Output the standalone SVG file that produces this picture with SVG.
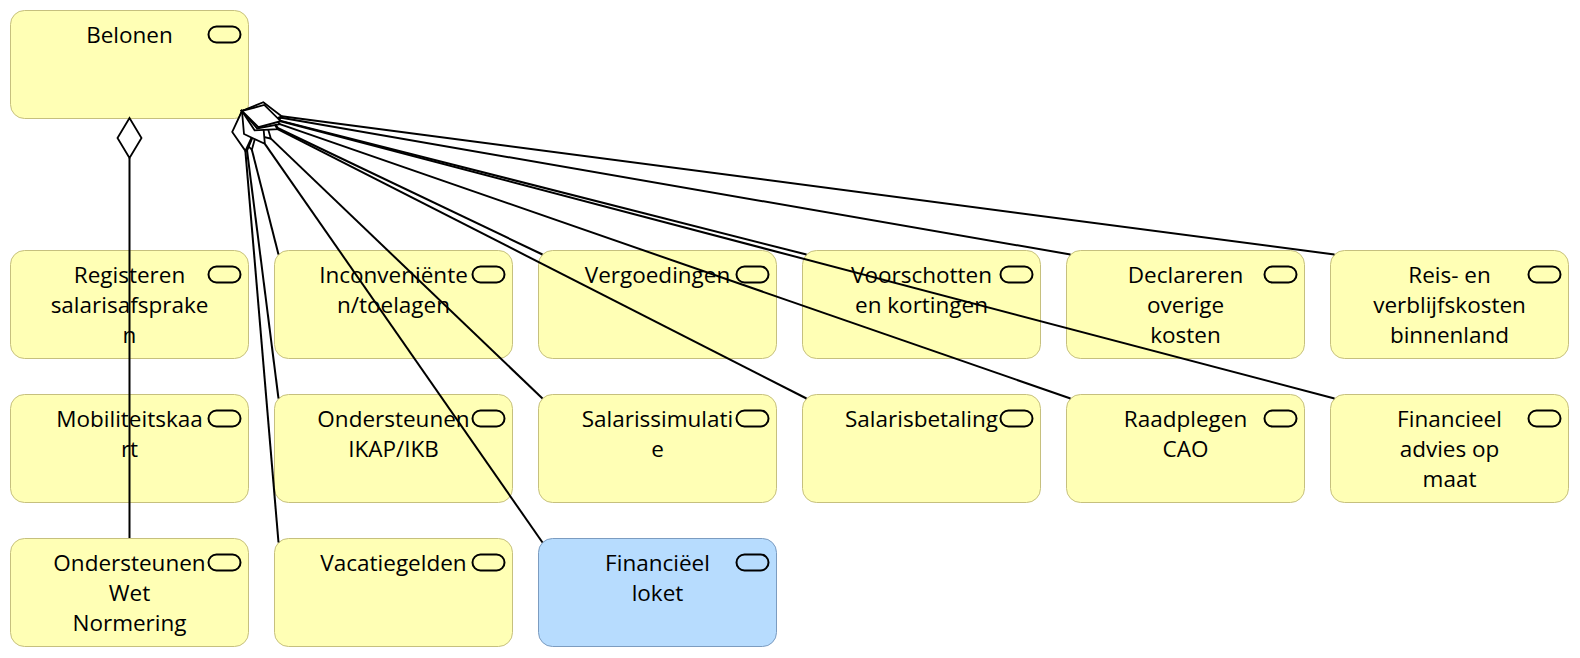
<svg xmlns="http://www.w3.org/2000/svg" width="1580" height="658" viewBox="0 0 1580 658">
<style>
.n{fill:#ffffb5;stroke:#c6c07e;stroke-width:1}
.b{fill:#b7dcfe;stroke:#7c9cc0;stroke-width:1}
.i{fill:none;stroke:#000;stroke-width:2}
.t{font-family:"Open Sans","Noto Sans",sans-serif;font-size:22.5px;fill:#000;text-anchor:middle}
.c{fill:none;stroke:#000;stroke-width:2}
.d{fill:#fff;stroke:#000;stroke-width:1.8;stroke-linejoin:miter}
</style>
<rect width="1580" height="658" fill="#fff"/>
<g id="belonen"><rect class="n" x="10.5" y="10.5" width="238" height="108" rx="14"/><rect class="i" x="208.5" y="26.5" width="32" height="16" rx="8"/><text class="t" x="129.5" y="42.5">Belonen</text></g>

<g id="registeren"><rect class="n" x="10.5" y="250.5" width="238" height="108" rx="14"/><rect class="i" x="208.5" y="266.5" width="32" height="16" rx="8"/><text class="t" x="129.5" y="282.5"><tspan x="129.5">Registeren</tspan><tspan x="129.5" dy="30">salarisafsprake</tspan><tspan x="129.5" dy="30">n</tspan></text></g>
<g id="inconvenienten"><rect class="n" x="274.5" y="250.5" width="238" height="108" rx="14"/><rect class="i" x="472.5" y="266.5" width="32" height="16" rx="8"/><text class="t" x="393.5" y="282.5"><tspan x="393.5">Inconveniënte</tspan><tspan x="393.5" dy="30">n/toelagen</tspan></text></g>
<g id="vergoedingen"><rect class="n" x="538.5" y="250.5" width="238" height="108" rx="14"/><rect class="i" x="736.5" y="266.5" width="32" height="16" rx="8"/><text class="t" x="657.5" y="282.5">Vergoedingen</text></g>
<g id="voorschotten"><rect class="n" x="802.5" y="250.5" width="238" height="108" rx="14"/><rect class="i" x="1000.5" y="266.5" width="32" height="16" rx="8"/><text class="t" x="921.5" y="282.5"><tspan x="921.5">Voorschotten</tspan><tspan x="921.5" dy="30">en kortingen</tspan></text></g>
<g id="declareren"><rect class="n" x="1066.5" y="250.5" width="238" height="108" rx="14"/><rect class="i" x="1264.5" y="266.5" width="32" height="16" rx="8"/><text class="t" x="1185.5" y="282.5"><tspan x="1185.5">Declareren</tspan><tspan x="1185.5" dy="30">overige</tspan><tspan x="1185.5" dy="30">kosten</tspan></text></g>
<g id="reis"><rect class="n" x="1330.5" y="250.5" width="238" height="108" rx="14"/><rect class="i" x="1528.5" y="266.5" width="32" height="16" rx="8"/><text class="t" x="1449.5" y="282.5"><tspan x="1449.5">Reis- en</tspan><tspan x="1449.5" dy="30">verblijfskosten</tspan><tspan x="1449.5" dy="30">binnenland</tspan></text></g>

<g id="mobiliteitskaart"><rect class="n" x="10.5" y="394.5" width="238" height="108" rx="14"/><rect class="i" x="208.5" y="410.5" width="32" height="16" rx="8"/><text class="t" x="129.5" y="426.5"><tspan x="129.5">Mobiliteitskaa</tspan><tspan x="129.5" dy="30">rt</tspan></text></g>
<g id="ikap"><rect class="n" x="274.5" y="394.5" width="238" height="108" rx="14"/><rect class="i" x="472.5" y="410.5" width="32" height="16" rx="8"/><text class="t" x="393.5" y="426.5"><tspan x="393.5">Ondersteunen</tspan><tspan x="393.5" dy="30">IKAP/IKB</tspan></text></g>
<g id="salarissimulatie"><rect class="n" x="538.5" y="394.5" width="238" height="108" rx="14"/><rect class="i" x="736.5" y="410.5" width="32" height="16" rx="8"/><text class="t" x="657.5" y="426.5"><tspan x="657.5">Salarissimulati</tspan><tspan x="657.5" dy="30">e</tspan></text></g>
<g id="salarisbetaling"><rect class="n" x="802.5" y="394.5" width="238" height="108" rx="14"/><rect class="i" x="1000.5" y="410.5" width="32" height="16" rx="8"/><text class="t" x="921.5" y="426.5">Salarisbetaling</text></g>
<g id="raadplegen"><rect class="n" x="1066.5" y="394.5" width="238" height="108" rx="14"/><rect class="i" x="1264.5" y="410.5" width="32" height="16" rx="8"/><text class="t" x="1185.5" y="426.5"><tspan x="1185.5">Raadplegen</tspan><tspan x="1185.5" dy="30">CAO</tspan></text></g>
<g id="advies"><rect class="n" x="1330.5" y="394.5" width="238" height="108" rx="14"/><rect class="i" x="1528.5" y="410.5" width="32" height="16" rx="8"/><text class="t" x="1449.5" y="426.5"><tspan x="1449.5">Financieel</tspan><tspan x="1449.5" dy="30">advies op</tspan><tspan x="1449.5" dy="30">maat</tspan></text></g>

<g id="normering"><rect class="n" x="10.5" y="538.5" width="238" height="108" rx="14"/><rect class="i" x="208.5" y="554.5" width="32" height="16" rx="8"/><text class="t" x="129.5" y="570.5"><tspan x="129.5">Ondersteunen</tspan><tspan x="129.5" dy="30">Wet</tspan><tspan x="129.5" dy="30">Normering</tspan></text></g>
<g id="vacatiegelden"><rect class="n" x="274.5" y="538.5" width="238" height="108" rx="14"/><rect class="i" x="472.5" y="554.5" width="32" height="16" rx="8"/><text class="t" x="393.5" y="570.5">Vacatiegelden</text></g>
<g id="loket"><rect class="b" x="538.5" y="538.5" width="238" height="108" rx="14"/><rect class="i" x="736.5" y="554.5" width="32" height="16" rx="8"/><text class="t" x="657.5" y="570.5"><tspan x="657.5">Financiëel</tspan><tspan x="657.5" dy="30">loket</tspan></text></g>

<g id="connectors">
<path class="c" d="M129.5 158V538"/>
<path class="c" d="M251.86 149.77L278.5 254.5"/>
<path class="c" d="M247.04 150.68L278.5 398.5"/>
<path class="c" d="M245.37 150.86L278.5 542.5"/>
<path class="c" d="M278.10 128.24L542.5 254.5"/>
<path class="c" d="M270.90 138.65L542.5 398.5"/>
<path class="c" d="M264.86 143.82L542.5 542.5"/>
<path class="c" d="M280.77 120.86L806.5 254.5"/>
<path class="c" d="M277.64 129.15L806.5 398.5"/>
<path class="c" d="M281.41 117.83L1070.5 254.5"/>
<path class="c" d="M279.79 124.11L1070.5 398.5"/>
<path class="c" d="M281.66 116.21L1334.5 254.5"/>
<path class="c" d="M280.68 121.18L1334.5 398.5"/>
<path class="d" d="M129.5 118L141.5 138L129.5 158L117.5 138Z"/>
<path class="d" d="M242 111L235.78 133.22L251.86 149.77L258.07 127.55Z"/>
<path class="d" d="M242 111L233.11 132.29L247.04 150.68L255.93 129.39Z"/>
<path class="d" d="M242 111L232.23 131.90L245.37 150.86L255.15 129.96Z"/>
<path class="d" d="M242 111L255.09 130.00L278.10 128.24L265.00 109.24Z"/>
<path class="d" d="M242 111L248.50 133.14L270.90 138.65L264.40 116.52Z"/>
<path class="d" d="M242 111L243.99 133.98L264.86 143.82L262.87 120.84Z"/>
<path class="d" d="M242 111L258.55 127.08L280.77 120.86L264.22 104.78Z"/>
<path class="d" d="M242 111L254.60 130.33L277.64 129.15L265.04 109.83Z"/>
<path class="d" d="M242 111L259.75 125.74L281.41 117.83L263.67 103.08Z"/>
<path class="d" d="M242 111L257.12 128.42L279.79 124.11L264.66 106.70Z"/>
<path class="d" d="M242 111L260.33 125.00L281.66 116.21L263.33 102.20Z"/>
<path class="d" d="M242 111L258.41 127.21L280.68 121.18L264.27 104.97Z"/>
</g>
</svg>
